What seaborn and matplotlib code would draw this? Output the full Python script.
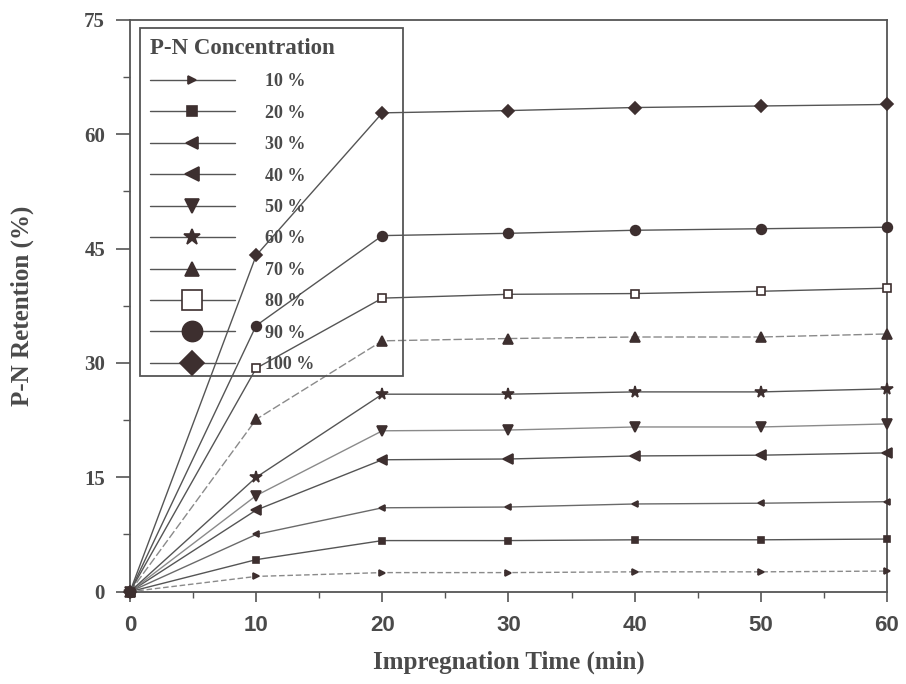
import matplotlib
matplotlib.use("Agg")
import matplotlib.pyplot as plt
import matplotlib.patches as mpatches
import seaborn as sns
from matplotlib.ticker import MultipleLocator

# Datos: retención de P-N frente al tiempo de impregnación
tiempo = [0, 10, 20, 30, 40, 50, 60]
concentraciones = ["10 %", "20 %", "30 %", "40 %", "50 %", "60 %", "70 %", "80 %", "90 %", "100 %"]
r10 = [0, 2.0, 2.5, 2.5, 2.6, 2.6, 2.7]
r20 = [0, 4.2, 6.7, 6.7, 6.8, 6.8, 6.9]
r30 = [0, 7.5, 11.0, 11.1, 11.5, 11.6, 11.8]
r40 = [0, 10.7, 17.3, 17.4, 17.8, 17.9, 18.2]
r50 = [0, 12.6, 21.1, 21.2, 21.6, 21.6, 22.0]
r60 = [0, 15.0, 25.9, 25.9, 26.2, 26.2, 26.6]
r70 = [0, 22.6, 32.9, 33.2, 33.4, 33.4, 33.8]
r80 = [0, 29.3, 38.5, 39.0, 39.1, 39.4, 39.8]
r90 = [0, 34.9, 46.7, 47.0, 47.4, 47.6, 47.8]
r100 = [0, 44.1, 62.8, 63.1, 63.5, 63.7, 63.9]
series = [r10, r20, r30, r40, r50, r60, r70, r80, r90, r100]

# Estilo de cada serie: marcador, tamaño (gráfica y leyenda), relleno y línea
marcadores = [">", "s", "<", "<", "v", "*", "^", "s", "o", "D"]
tamanos = [4.5, 5, 5, 6.5, 6.5, 8.5, 6.5, 6, 7, 6]
tamanos_leyenda = [6, 7, 8, 10, 9.5, 12, 10.5, 14, 14.5, 12]
rellenos = ["#3d2f2f"] * 7 + ["white"] + ["#3d2f2f"] * 2
lineas = ["#8a8a8a", "#555555", "#6a6a6a", "#555555", "#8a8a8a",
          "#555555", "#8a8a8a", "#555555", "#555555", "#555555"]
estilos = [(0, (4, 2)), "-", "-", "-", "-", "-", (0, (6, 2)), "-", "-", "-"]

sns.set_theme(style="white")
plt.rcParams["font.family"] = ["Liberation Serif", "DejaVu Serif"]

fig, ax = plt.subplots(figsize=(9.06, 6.84), dpi=100)
fig.subplots_adjust(left=0.1435, right=0.979, top=0.971, bottom=0.135)

for vals, nombre, m, ms, fc, lc, ls in zip(series, concentraciones, marcadores,
                                           tamanos, rellenos, lineas, estilos):
    sns.lineplot(x=tiempo, y=vals, ax=ax, label=nombre, color=lc, linestyle=ls,
                 linewidth=1.0, marker=m, markersize=ms, markerfacecolor=fc,
                 markeredgecolor="#3d2f2f", markeredgewidth=1.2, clip_on=False,
                 zorder=3)

ax.set_xlim(0, 60)
ax.set_ylim(0, 75)
ax.xaxis.set_major_locator(MultipleLocator(10))
ax.xaxis.set_minor_locator(MultipleLocator(5))
ax.yaxis.set_major_locator(MultipleLocator(15))
ax.yaxis.set_minor_locator(MultipleLocator(7.5))

for s in ax.spines.values():
    s.set_color("#555555")
    s.set_linewidth(1.3)

ax.tick_params(axis="y", which="major", direction="out", length=10, width=1.2,
               color="#555555", pad=8, left=True)
ax.tick_params(axis="y", which="minor", direction="out", length=5, width=1.0,
               color="#555555", left=True)
ax.tick_params(axis="x", which="major", direction="out", length=7, width=1.2,
               color="#555555", pad=10, bottom=True)
ax.tick_params(axis="x", which="minor", direction="out", length=4, width=1.0,
               color="#555555", bottom=True)

for t in ax.get_yticklabels():
    t.set_fontsize(15)
    t.set_fontweight("bold")
    t.set_color("#4a4a4a")
for t in ax.get_xticklabels():
    t.set_fontfamily(["Liberation Sans", "DejaVu Sans"])
    t.set_fontsize(16)
    t.set_fontweight("bold")
    t.set_color("#4a4a4a")

ax.set_xlabel("Impregnation Time (min)", fontsize=18, fontweight="bold",
              color="#4a4a4a", labelpad=10)
ax.set_ylabel("P-N Retention (%)", fontsize=18, fontweight="bold",
              color="#4a4a4a", labelpad=36)

# Leyenda sin marco propio; el recuadro se dibuja aparte, más ancho
leg = ax.legend(title="P-N Concentration", loc="upper left",
                bbox_to_anchor=(0.013, 0.986), borderaxespad=0, frameon=False,
                borderpad=0.55, labelspacing=0.8, handlelength=4.7,
                handletextpad=1.7, alignment="left",
                prop={"weight": "bold", "size": 13})
leg.get_title().set_fontweight("bold")
leg.get_title().set_fontsize(16.5)
leg.get_title().set_color("#4a4a4a")
for t in leg.get_texts():
    t.set_color("#4a4a4a")
for h, ms in zip(leg.legend_handles, tamanos_leyenda):
    h.set_color("#555555")
    h.set_linestyle("-")
    h.set_markersize(ms)

caja = mpatches.Rectangle((0.0132, 0.378), 0.347, 0.608, transform=ax.transAxes,
                          fill=False, edgecolor="#555555", linewidth=1.3,
                          zorder=4)
ax.add_patch(caja)

fig.savefig("out.png", dpi=100)
